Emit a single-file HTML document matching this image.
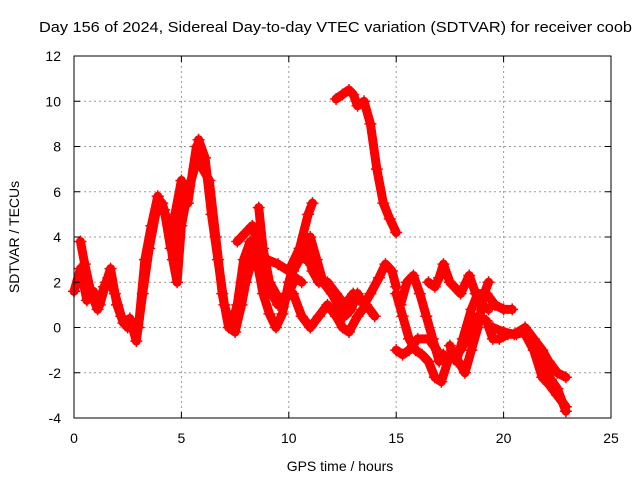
<!DOCTYPE html>
<html><head><meta charset="utf-8"><style>
body{margin:0;background:#fff}
svg{display:block;font-family:"Liberation Sans",sans-serif}
</style></head><body>
<svg id="chart" width="640" height="480" viewBox="0 0 640 480" xmlns="http://www.w3.org/2000/svg">
<rect width="640" height="480" fill="#fff"/>
<text x="39" y="32" font-size="15" textLength="593" lengthAdjust="spacingAndGlyphs" fill="#000">Day 156 of 2024, Sidereal Day-to-day VTEC variation (SDTVAR) for receiver coob</text>
<g id="grid"></g>
<g id="series"></g>
<rect x="74" y="56" width="537" height="362" fill="none" stroke="#000" stroke-width="1"/>
<g id="ticks"></g>
<text x="340" y="471" font-size="14" text-anchor="middle">GPS time / hours</text>
<text transform="translate(19,237) rotate(-90)" font-size="14" text-anchor="middle">SDTVAR / TECUs</text>
</svg>
<script>
const xTicks=[0,5,10,15,20,25];
const yTicks=[-4,-2,0,2,4,6,8,10,12];
const s1=[[0,1.6],[0.3,2.6],[0.6,1.2],[0.9,1.6],[1.2,1.0],[1.5,2.0],[1.7,2.6],[2.0,1.0],[2.3,0.2],[2.6,0.4],[2.9,-0.6],[3.2,1.5],[3.5,3.5],[3.8,5.0],[4.1,5.5],[4.4,4.5],[4.6,3.0],[4.8,2.0],[5.0,4.5],[5.3,6.0],[5.6,7.0],[5.8,8.3],[6.1,7.5],[6.4,5.0],[6.7,3.0],[7.0,1.0],[7.3,0.0],[7.6,1.0],[7.9,3.0],[8.2,3.8],[8.5,3.0],[8.8,1.5],[9.1,0.6],[9.4,0.0],[9.7,0.6],[10.0,2.0],[10.3,3.0],[10.6,3.5],[10.8,3.0]];
const s2=[[0.3,3.8],[0.5,2.8],[0.8,1.5],[1.1,0.8],[1.4,1.8],[1.6,2.2],[1.9,1.5],[2.2,0.5],[2.5,0.0]];
const s3=[[3.0,0.0],[3.3,3.0],[3.6,4.5],[3.9,5.8],[4.2,5.2],[4.5,3.5],[4.7,5.0],[5.0,6.5],[5.3,5.5],[5.7,8.0],[6.0,7.0],[6.3,6.5],[6.6,4.0],[6.9,1.5],[7.2,0.0],[7.5,-0.2],[7.8,1.0],[8.0,2.0],[8.3,3.0],[8.5,3.2],[8.7,2.5]];
const s4=[[7.6,3.8],[8.0,4.2],[8.3,4.5],[8.6,3.6],[8.9,2.5],[9.2,1.5],[9.5,1.0],[9.9,1.5],[10.2,2.5],[10.5,3.0],[10.8,3.5],[11.1,2.5],[11.4,2.0],[11.8,2.0],[12.2,1.5],[12.6,1.0],[13.0,1.5]];
const s5=[[8.6,5.3],[8.8,3.5],[9.1,2.0],[9.4,1.5],[9.7,1.0],[10.0,1.5],[10.3,2.2],[10.6,2.0]];
const s6=[[9.0,3.0],[9.5,2.8],[10.0,2.5],[10.5,3.5],[10.9,5.0],[11.1,5.5]];
const s7=[[12.2,10.1],[12.5,10.3],[12.8,10.5],[13.0,10.3],[13.2,9.8],[13.5,10.0],[13.8,9.0],[14.1,7.0],[14.4,5.5],[14.7,4.8],[15.0,4.2]];
const s8=[[10.8,3.0],[11.0,4.0],[11.3,3.0],[11.6,2.0],[12.0,1.5],[12.3,1.0],[12.6,0.5],[12.9,0.8],[13.2,1.5],[13.5,1.0],[13.8,1.5],[14.2,2.2],[14.5,2.8],[14.8,2.5],[15.0,1.8]];
const s9=[[10.2,1.5],[10.6,0.5],[11.0,0.0],[11.4,0.5],[11.8,1.0],[12.2,0.5],[12.5,0.0],[12.8,-0.2],[13.2,0.5],[13.6,1.0],[14.0,0.5]];
const s10=[[15.0,1.5],[15.3,0.5],[15.6,-0.5],[15.9,-1.0],[16.2,-1.2],[16.5,-1.5],[16.8,-2.2],[17.1,-2.4],[17.4,-1.5],[17.6,-1.0],[17.9,-1.5],[18.2,-2.0],[18.5,-1.0],[18.8,0.0],[19.1,1.5],[19.3,2.0]];
const s11=[[15.2,1.0],[15.5,2.0],[15.8,2.3],[16.1,1.5],[16.4,0.5],[16.7,-0.5],[17.0,-1.5],[17.2,-1.2]];
const s12=[[15.0,-1.0],[15.3,-1.2],[15.6,-1.0],[16.0,-0.5],[16.5,-0.5],[16.9,-1.0]];
const s13=[[16.5,2.0],[16.8,1.8],[17.0,2.2],[17.2,2.8],[17.5,2.0],[18.0,1.5],[18.4,2.3],[18.7,1.5],[19.0,1.0],[19.3,0.8]];
const s14=[[17.5,-0.8],[17.8,-1.5],[18.1,-0.5],[18.5,0.8],[18.8,1.5],[19.2,1.5],[19.6,1.0],[20.0,0.8],[20.4,0.8]];
const s15=[[18.0,-1.0],[18.4,-0.3],[18.8,0.5],[19.2,0.3],[19.5,-0.5],[19.8,-0.5],[20.2,-0.3],[20.6,-0.3],[21.0,-0.2],[21.3,-0.5],[21.6,-1.2],[21.9,-1.8],[22.2,-2.3],[22.5,-2.7],[22.9,-3.7]];
const s16=[[19.5,0.0],[20.0,-0.2],[20.5,-0.3],[21.0,0.0],[21.4,-0.5],[21.8,-1.0],[22.1,-1.5],[22.5,-2.0],[22.9,-2.2]];
const s17=[[21.0,-0.3],[21.4,-1.0],[21.8,-2.2],[22.1,-2.5],[22.5,-3.0],[22.9,-3.5]];
const allSeries=[s1,s2,s3,s4,s5,s6,s7,s8,s9,s10,s11,s12,s13,s14,s15,s16,s17];

const NS="http://www.w3.org/2000/svg";
const X0=74,X1=611,Y0=418,Y1=56;
function xs(t){return X0+(t-0)/(25-0)*(X1-X0);}
function ys(v){return Y0-(v+4)/(16)*(Y0-Y1);}
function mk(tag,attrs,parent){const e=document.createElementNS(NS,tag);for(const k in attrs)e.setAttribute(k,attrs[k]);parent.appendChild(e);return e;}
const grid=document.getElementById('grid'),ticks=document.getElementById('ticks'),ser=document.getElementById('series');
xTicks.forEach(t=>{
  const x=xs(t);
  if(t>0&&t<25){const g=mk('line',{x1:x,x2:x,y1:Y1,y2:Y0,stroke:'#999','stroke-dasharray':'2,3'},grid);
  
  }
  mk('line',{x1:x,x2:x,y1:Y0,y2:Y0-6,stroke:'#000'},ticks);
  mk('line',{x1:x,x2:x,y1:Y1,y2:Y1+6,stroke:'#000'},ticks);
  const l=mk('text',{x:x,y:443,'font-size':14,'text-anchor':'middle'},ticks);l.textContent=t;
  
  
});
yTicks.forEach(v=>{
  const y=ys(v);
  if(v>-4&&v<12){const g=mk('line',{x1:X0,x2:X1,y1:y,y2:y,stroke:'#999','stroke-dasharray':'2,3'},grid);
  
  }
  mk('line',{x1:X0,x2:X0+6,y1:y,y2:y,stroke:'#000'},ticks);
  mk('line',{x1:X1,x2:X1-6,y1:y,y2:y,stroke:'#000'},ticks);
  const l=mk('text',{x:61,y:y+5,'font-size':14,'text-anchor':'end'},ticks);l.textContent=v;
  
  
});
allSeries.forEach((s,i)=>{
  const g=mk('g',{},ser);
  
  
  mk('polyline',{points:s.map(p=>xs(p[0])+','+ys(p[1])).join(' '),fill:'none',stroke:'#f00','stroke-width':9,'stroke-linejoin':'round','stroke-linecap':'round'},g);
  s.forEach(p=>{
    const x=xs(p[0]),y=ys(p[1]);
    mk('path',{d:`M${x-6},${y}H${x+6}M${x},${y-6}V${y+6}`,stroke:'#f00','stroke-width':1.5},g);
  });
});
</script>
</body></html>
